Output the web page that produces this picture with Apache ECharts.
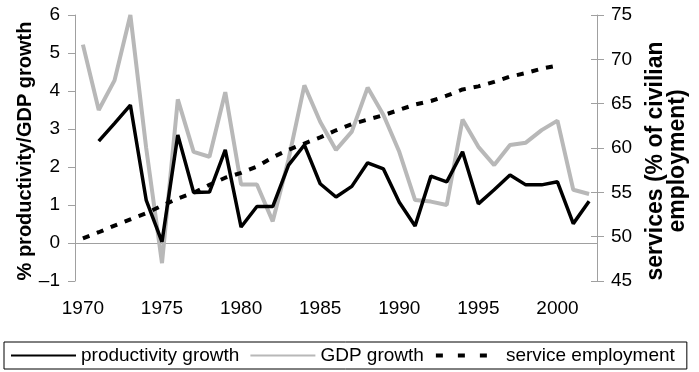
<!DOCTYPE html>
<html>
<head>
<meta charset="utf-8">
<script src="https://cdn.jsdelivr.net/npm/echarts@6/dist/echarts.min.js"></script>
<style>
html,body{margin:0;padding:0;background:#fff;}
#chart{width:699px;height:372px;}
</style>
</head>
<body>
<div id="chart"></div>
<script>
const years = ['1970','1971','1972','1973','1974','1975','1976','1977','1978','1979','1980','1981','1982','1983','1984','1985','1986','1987','1988','1989','1990','1991','1992','1993','1994','1995','1996','1997','1998','1999','2000','2001','2002'];
const productivityGrowth = [null,2.68,3.15,3.63,1.13,0.03,2.84,1.33,1.34,2.45,0.42,0.96,0.96,2.05,2.58,1.56,1.21,1.49,2.11,1.95,1.07,0.45,1.76,1.61,2.40,1.03,1.40,1.79,1.53,1.53,1.61,0.51,1.10];
const gdpGrowth = [5.22,3.50,4.28,6.0,2.5,-0.53,3.78,2.40,2.27,3.97,1.54,1.54,0.57,2.2,4.15,3.19,2.45,2.93,4.09,3.37,2.4,1.13,1.09,1.00,3.25,2.53,2.05,2.58,2.64,2.97,3.22,1.40,1.29];
const serviceEmployment = [49.8,50.5,51.25,51.95,52.65,53.5,54.3,54.95,55.85,56.65,57.2,57.9,58.95,59.8,60.5,61.2,62.0,62.7,63.2,63.7,64.3,64.9,65.3,65.9,66.6,66.95,67.45,68.05,68.45,68.95,69.3,null,null];
const leftTitle = '% productivity/GDP growth';
const rightTitle = 'services (% of civilian\nemployment)';
const seriesNames = ['productivity growth','GDP growth','service employment'];

const FONT = "'Liberation Sans', Arial, sans-serif";
const axisGrey = '#a0a0a0';
const chart = echarts.init(document.getElementById('chart'), null, {renderer:'canvas'});
chart.setOption({
  animation:false,
  backgroundColor:'#fff',
  textStyle:{fontFamily:FONT},
  grid:{left:75,right:102,top:15,bottom:91,containLabel:false},
  graphic:[{
    type:'text', x:25, y:151, rotation:Math.PI/2,
    style:{text:leftTitle, fill:'#000', font:"bold 20px "+FONT, textAlign:'center', textVerticalAlign:'middle'}
  },{
    type:'text', x:667, y:161, rotation:Math.PI/2,
    style:{text:rightTitle, fill:'#000', font:"bold 23px "+FONT, lineHeight:22, textAlign:'center', textVerticalAlign:'middle'}
  }],
  legend:{
    left:4, top:342,
    padding:[4,12,4,6],
    itemGap:10,
    itemWidth:65, itemHeight:14,
    borderColor:'#000', borderWidth:1,
    itemStyle:{opacity:0,color:'transparent',borderWidth:0},
    textStyle:{fontSize:19,color:'#000',fontFamily:FONT},
    data:[
      {name:seriesNames[0]},
      {name:seriesNames[1]},
      {name:seriesNames[2], lineStyle:{type:[7,15],width:4,color:'#000'}}
    ]
  },
  xAxis:[{
    type:'category', data:years, boundaryGap:true,
    axisLine:{lineStyle:{color:axisGrey,width:1}},
    axisTick:{interval:4,length:6,lineStyle:{color:axisGrey}},
    axisLabel:{interval:4,fontSize:19,color:'#000',margin:18,fontFamily:FONT},
    splitLine:{show:false}
  },{
    type:'category', data:years, boundaryGap:true, position:'bottom',
    axisLine:{show:false},
    axisTick:{interval:4,length:5,inside:true,lineStyle:{color:axisGrey}},
    axisLabel:{show:false}, splitLine:{show:false}
  }],
  yAxis:[{
    type:'value', min:-1, max:6, interval:1, position:'left',
    axisLine:{show:true,lineStyle:{color:axisGrey}},
    axisTick:{show:true,length:7,lineStyle:{color:axisGrey}},
    axisLabel:{fontSize:19,color:'#000',margin:15,fontFamily:FONT,formatter:v=>String(v).replace('-','\u2013')},
    splitLine:{show:false}
  },{
    type:'value', min:45, max:75, interval:5, position:'right',
    axisLine:{show:true,lineStyle:{color:axisGrey}},
    axisTick:{show:true,length:7,lineStyle:{color:axisGrey}},
    axisLabel:{fontSize:19,color:'#000',margin:14,fontFamily:FONT},
    splitLine:{show:false}
  },{
    type:'value', min:45, max:75, interval:5, position:'right',
    axisLine:{show:false},
    axisTick:{show:true,inside:true,length:6,lineStyle:{color:axisGrey}},
    axisLabel:{show:false}, splitLine:{show:false}
  }],
  series:[{
    name:seriesNames[1], type:'line', data:gdpGrowth, yAxisIndex:0,
    symbol:'none', showSymbol:false, z:2,
    lineStyle:{color:'#b8b8b8',width:4},
    itemStyle:{color:'#b8b8b8'}
  },{
    name:seriesNames[0], type:'line', data:productivityGrowth, yAxisIndex:0,
    symbol:'none', showSymbol:false, z:3,
    lineStyle:{color:'#000',width:3.5},
    itemStyle:{color:'#000'}
  },{
    name:seriesNames[2], type:'line', data:serviceEmployment, yAxisIndex:1,
    symbol:'none', showSymbol:false, z:4,
    lineStyle:{color:'#000',width:4,type:[7,8]},
    itemStyle:{color:'#000'}
  }]
});
</script>
</body>
</html>
